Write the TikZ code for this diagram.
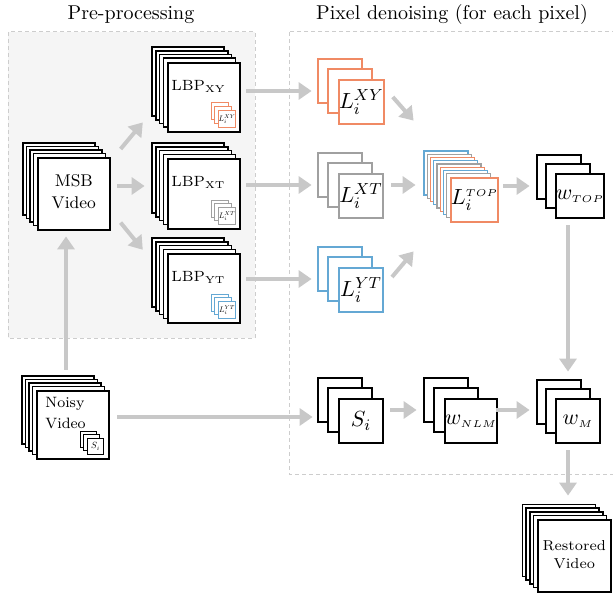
\documentclass[tikz,border=0pt]{standalone}
\usepackage{graphicx}
\usetikzlibrary{arrows.meta}
\definecolor{cor}{RGB}{240,138,100}
\definecolor{cbl}{RGB}{100,168,212}
\definecolor{cgr}{RGB}{160,160,160}
\definecolor{carr}{RGB}{200,200,200}
\definecolor{cbox}{RGB}{205,205,205}
\definecolor{cfill}{RGB}{245,245,245}
\tikzset{
  frame/.style={draw=black, fill=white, line width=0.8pt},
  midframe/.style={draw=black, fill=white, line width=1pt},
  thinframe/.style={draw=black, fill=white, line width=0.5pt},
  arr/.style={draw=carr, line width=2pt, -{Triangle[length=6.5pt,width=8.5pt]}},
  region/.style={draw=cbox, dash pattern=on 2pt off 1.5pt, line width=0.5pt},
  title/.style={font=\normalsize},
}
% #1 name, #2 x, #3 y (front top-left, px), #4 w, #5 h, #6 back frames, #7 offset, #8 style, #9 content
\newcommand\stk[9]{%
  \foreach \k in {#6,...,1}{\draw[#8] ({#2-\k*#7},{#3-\k*#7}) rectangle ++(#4,#5);}
  \node[#8, inner sep=0pt, minimum width=#4*0.5pt, minimum height=#5*0.5pt, anchor=north west] (#1-f) at (#2,#3) {#9};
  \pgfmathsetmacro\stkcx{#2+#4/2-#6*#7/2}
  \pgfmathsetmacro\stkcy{#3+#5/2-#6*#7/2}
  \node[inner sep=0pt, minimum width={(#4+#6*#7)*0.5pt}, minimum height={(#5+#6*#7)*0.5pt}] (#1) at (\stkcx,\stkcy) {};
}
\newcommand\mfont{\fontsize{11}{13}\selectfont}
\begin{document}
\begin{tikzpicture}[x=0.5pt,y=-0.5pt]
\useasboundingbox (0,0) rectangle (613,593);
% regions
\draw[region, fill=cfill] (8,32) rectangle (255,338);
\draw[region] (289,32) rectangle (630,474);
\node[title] (t1) at (131,15) {Pre-processing};
\node[title] (t2) at (452,15) {Pixel denoising (for each pixel)};

% MSB video
\stk{msb}{37}{157}{72}{72}{4}{3.5}{frame}{\fontsize{8.5}{9}\selectfont\begin{tabular}{@{}c@{}}MSB\\[2pt]Video\end{tabular}}
% Noisy video
\stk{noisy}{36}{390}{72}{68}{4}{3.5}{frame}{}
\node[anchor=north west, inner sep=0pt, font=\fontsize{7.5}{10.5}\selectfont, align=left] (noisyt) at ([shift={(9,7)}]noisy-f.north west) {Noisy\\Video};
\stk{sis}{87}{438}{16}{16}{2}{3.5}{thinframe}{\scalebox{0.45}{$S_i$}}
% Restored
\stk{restored}{537}{519}{73}{72}{4}{3.6}{frame}{\fontsize{7.2}{8.8}\selectfont\begin{tabular}{@{}c@{}}Restored\\Video\end{tabular}}

% LBP stacks
\stk{lbpxy}{167}{62}{72}{69}{4}{3.7}{frame}{}
\node[anchor=west, inner sep=0pt, font=\fontsize{7.4}{9}\selectfont] (lbpxyt) at ([shift={(4,-11)}]lbpxy-f.west) {LBP$_{\mathrm{XY}}$};
\stk{lxys}{218}{110}{17}{17}{2}{3.5}{thinframe,draw=cor}{\scalebox{0.4}{$L_i^{XY}$}}

\stk{lbpxt}{167}{158}{72}{70}{4}{3.7}{frame}{}
\node[anchor=west, inner sep=0pt, font=\fontsize{7.4}{9}\selectfont] (lbpxtt) at ([shift={(4,-11)}]lbpxt-f.west) {LBP$_{\mathrm{XT}}$};
\stk{lxts}{218}{207}{17}{17}{2}{3.5}{thinframe,draw=cgr}{\scalebox{0.4}{$L_i^{XT}$}}

\stk{lbpyt}{167}{253}{72}{69}{4}{3.7}{frame}{}
\node[anchor=west, inner sep=0pt, font=\fontsize{7.4}{9}\selectfont] (lbpytt) at ([shift={(4,-11)}]lbpyt-f.west) {LBP$_{\mathrm{YT}}$};
\stk{lyts}{218}{301}{17}{17}{2}{3.5}{thinframe,draw=cbl}{\scalebox{0.4}{$L_i^{YT}$}}

% L stacks
\stk{lxy}{338}{79}{44}{44}{2}{10}{midframe,draw=cor}{\mfont$L_i^{XY}$}
\stk{lxt}{338}{173}{44}{44}{2}{10}{midframe,draw=cgr}{\mfont$L_i^{XT}$}
\stk{lyt}{338}{267}{44}{44}{2}{10}{midframe,draw=cbl}{\mfont$L_i^{YT}$}

% L TOP
\foreach \k/\c in {8/cbl,7/cgr,6/cor,5/cbl,4/cgr,3/cor,2/cbl,1/cgr}{
  \draw[frame, line width=0.65pt, draw=\c] ({450-\k*3.25},{177-\k*3.25}) rectangle ++(44,44);
}
\node[frame, line width=0.8pt, draw=cor, inner sep=0pt, minimum width=22pt, minimum height=22pt, anchor=north west] (ltop-f) at (450,177) {\mfont$L_i^{\scriptscriptstyle TOP}$};
\node[inner sep=0pt, minimum width=35pt, minimum height=35pt] (ltop) at (459,186) {};

% weights
\stk{wtop}{555}{173}{44}{44}{2}{9}{midframe}{\mfont$w_{\scriptscriptstyle TOP}$}
\stk{si}{338}{398}{44}{44}{2}{10}{midframe}{\mfont$S_i$}
\stk{wnlm}{444}{398}{44}{44}{2}{10}{midframe}{\mfont$w_{\scriptscriptstyle NLM}$}
\stk{wm}{555}{398}{44}{44}{2}{9}{midframe}{\mfont$w_{\scriptscriptstyle M}$}

% arrows
\draw[arr, shorten <=3pt, shorten >=3.5pt] (noisy.north -| msb.south) -- (msb.south);
\draw[arr] ([shift={(10,-8)}]msb-f.north east) -- ([shift={(-9,-9)}]lbpxy.south west);
\draw[arr, shorten <=4pt, shorten >=3.6pt] (msb.east) -- (msb.east -| lbpxt.west);
\draw[arr] ([shift={(10,-8)}]msb-f.south east) -- ([shift={(-9,12)}]lbpyt.north west);

\draw[arr, shorten <=3.5pt, shorten >=3pt] (lxy.west -| lbpxy.east) -- (lxy.west);
\draw[arr, shorten <=3.5pt, shorten >=3pt] (lxt.west -| lbpxt.east) -- (lxt.west);
\draw[arr, shorten <=3.5pt, shorten >=3pt] (lyt.west -| lbpyt.east) -- (lyt.west);

\draw[arr] ([shift={(8,-5)}]lxy-f.east) -- ([shift={(-10,-30)}]ltop.north west);
\draw[arr, shorten <=4.5pt, shorten >=4pt] (lxt.east) -- (lxt.east -| ltop.west);
\draw[arr] ([shift={(8,-13)}]lyt-f.east) -- ([shift={(-10,30)}]ltop.south west);

\draw[arr, shorten <=4.5pt, shorten >=3.5pt] (ltop.east) -- (ltop.east -| wtop.west);
\draw[arr, shorten <=4pt, shorten >=4pt] (wtop.south) -- (wtop.south |- wm.north);

\draw[arr, shorten <=4.5pt, shorten >=2.5pt] (noisy.east) -- (noisy.east -| si.west);
\draw[arr, shorten <=4pt, shorten >=3.5pt] (si.east) -- (si.east -| wnlm.west);
\draw[arr, shorten <=4pt, shorten >=3.5pt] (wnlm.east) -- (wnlm.east -| wm.west);
\draw[arr, shorten <=4pt, shorten >=4.3pt] (wm.south) -- (wm.south |- restored.north);
\end{tikzpicture}
\end{document}
